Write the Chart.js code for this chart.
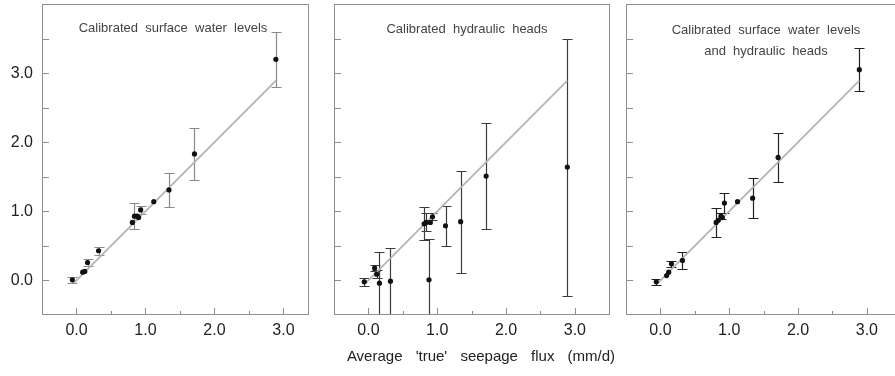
<!DOCTYPE html>
<html>
<head>
<meta charset="utf-8">
<script src="https://cdn.jsdelivr.net/npm/chart.js@4/dist/chart.umd.min.js"></script>
<style>
  html, body { margin: 0; padding: 0; background: #fff; width: 895px; height: 376px; overflow: hidden; position: relative; }
  canvas { position: absolute; top: 0; }
  #xTitle { position: absolute; left: 281px; top: 347px; width: 400px; text-align: center;
            font: 15px "Liberation Sans", Arial, sans-serif; word-spacing: 9px; color: #222; white-space: nowrap; }
</style>
</head>
<body>
<canvas id="c1" width="320" height="376" style="left:0"></canvas>
<canvas id="c2" width="300" height="376" style="left:320px"></canvas>
<canvas id="c3" width="290" height="376" style="left:620px"></canvas>
<div id="xTitle">Average 'true' seepage flux (mm/d)</div>
<script>
/* ---- data (mm/d) ---- */
// average "true" seepage flux, shared by the three panels
const TRUE_FLUX = [-0.06, 0.09, 0.12, 0.16, 0.32, 0.81, 0.84, 0.88, 0.90, 0.93, 1.12, 1.34, 1.71, 2.89];

// calibrated surface water levels
const SW_EST = [0.01, 0.12, 0.13, 0.26, 0.43, 0.84, 0.93, 0.93, 0.91, 1.02, 1.14, 1.31, 1.83, 3.20];
const SW_ERR = [0.04, 0, 0, 0.05, 0.055, 0, 0.19, 0, 0, 0.06, 0, 0.25, 0.375, 0.40];

// calibrated hydraulic heads
const HH_EST = [-0.02, 0.18, 0.09, -0.04, -0.01, 0.82, 0.84, 0.01, 0.84, 0.92, 0.79, 0.85, 1.51, 1.64];
const HH_ERR = [0.06, 0.05, 0.06, 0.45, 0.48, 0.24, 0.13, 0.59, 0, 0.05, 0.29, 0.74, 0.77, 1.86];

// calibrated surface water levels and hydraulic heads
const BOTH_EST = [-0.02, 0.07, 0.12, 0.24, 0.29, 0.84, 0.87, 0.93, 0.91, 1.12, 1.14, 1.19, 1.78, 3.05];
const BOTH_ERR = [0.045, 0, 0, 0.04, 0.12, 0.21, 0, 0.04, 0, 0.145, 0, 0.29, 0.355, 0.315];

// 1:1 reference line
const LINE_X = [-0.04, 2.89];
const LINE_Y = [-0.04, 2.89];

const Y_MIN = -0.5, Y_MAX = 4.0, X_MIN = -0.5;
const X_MAX = [3.37, 3.51, 3.51];

const FONT = "'Liberation Sans', Arial, sans-serif";

const label = (v) => (Math.abs(v - Math.round(v)) < 1e-6 && v >= 0 && v <= 3 ? v.toFixed(1) : "");

/* ---- frame, inward ticks, error bars, note ---- */
const panelPlugin = {
  id: "panelExtras",
  beforeDatasetsDraw(chart, args, opts) {
    const { ctx, chartArea: a, scales: { x, y } } = chart;
    const ds = chart.data.datasets[0];
    ctx.save();
    ctx.beginPath();
    ctx.rect(a.left, a.top, a.right - a.left, a.bottom - a.top);
    ctx.clip();
    ctx.strokeStyle = opts.barColor;
    ctx.lineWidth = 1.2;
    ds.data.forEach((p, i) => {
      const e = ds.err[i];
      if (!e) return;
      const px = Math.round(x.getPixelForValue(p.x)) + 0.5;
      const top = Math.round(y.getPixelForValue(p.y + e)) + 0.5;
      const bot = Math.round(y.getPixelForValue(p.y - e)) + 0.5;
      ctx.beginPath();
      ctx.moveTo(px, top); ctx.lineTo(px, bot);
      ctx.moveTo(px - 5, top); ctx.lineTo(px + 5, top);
      ctx.moveTo(px - 5, bot); ctx.lineTo(px + 5, bot);
      ctx.stroke();
    });
    ctx.restore();
  },
  afterDraw(chart, args, opts) {
    const { ctx, chartArea: a, scales: { x, y } } = chart;
    ctx.save();
    ctx.strokeStyle = "#8f8f8f";
    ctx.lineWidth = 1;
    ctx.strokeRect(Math.round(a.left) + 0.5, Math.round(a.top) + 0.5,
      Math.round(a.right - a.left) - 1, Math.round(a.bottom - a.top) - 1);

    const isHalf = (v) => Math.abs(v * 2 - Math.round(v * 2)) < 1e-6;
    const isInt = (v) => Math.abs(v - Math.round(v)) < 1e-6;
    ctx.beginPath();
    x.ticks.forEach((t) => {
      if (!isHalf(t.value) || t.value <= x.min + 1e-6 || t.value >= x.max - 1e-6) return;
      const px = Math.round(x.getPixelForValue(t.value)) + 0.5;
      const len = isInt(t.value) ? 7 : 4;
      ctx.moveTo(px, a.bottom); ctx.lineTo(px, a.bottom - len);
    });
    y.ticks.forEach((t) => {
      if (!isHalf(t.value) || t.value <= y.min + 1e-6 || t.value >= y.max - 1e-6) return;
      const py = Math.round(y.getPixelForValue(t.value)) + 0.5;
      ctx.moveTo(a.left, py); ctx.lineTo(a.left + 7, py);
    });
    ctx.stroke();

    ctx.fillStyle = "#444";
    ctx.font = "13px " + FONT;
    ctx.textAlign = "center";
    ctx.textBaseline = "alphabetic";
    opts.note.forEach((line, i) => ctx.fillText(line, opts.noteX, opts.noteY + i * 21));
    ctx.restore();
  }
};

function makePanel(id, est, err, barColor, xMax, showY, pad, note, noteX, noteY) {
  return new Chart(document.getElementById(id), {
    type: "scatter",
    data: {
      datasets: [
        {
          data: TRUE_FLUX.map((v, i) => ({ x: v, y: est[i] })),
          err: err,
          pointRadius: 2.6,
          pointBackgroundColor: "#111",
          pointBorderWidth: 0
        },
        {
          data: LINE_X.map((v, i) => ({ x: v, y: LINE_Y[i] })),
          showLine: true,
          borderColor: "#b4b4b4",
          borderWidth: 1.8,
          pointRadius: 0
        }
      ]
    },
    options: {
      responsive: false,
      animation: false,
      devicePixelRatio: 1,
      layout: { padding: pad },
      plugins: {
        legend: { display: false },
        tooltip: { enabled: false },
        panelExtras: { barColor, note, noteX, noteY }
      },
      scales: {
        x: {
          type: "linear",
          min: X_MIN,
          max: xMax,
          grid: { display: false, drawTicks: false },
          border: { display: false },
          ticks: {
            stepSize: 0.5,
            includeBounds: false,
            autoSkip: false,
            maxRotation: 0,
            padding: 6,
            color: "#222",
            font: { family: FONT, size: 16 },
            callback: label
          },
          afterFit: (s) => { s.height = 61; s.paddingLeft = 0; s.paddingRight = 0; }
        },
        y: {
          type: "linear",
          min: Y_MIN,
          max: Y_MAX,
          grid: { display: false, drawTicks: false },
          border: { display: false },
          ticks: {
            display: showY,
            stepSize: 0.5,
            includeBounds: false,
            autoSkip: false,
            padding: 9,
            color: "#222",
            font: { family: FONT, size: 16 },
            callback: label
          },
          afterFit: (s) => { s.width = showY ? 42 : 0; s.paddingTop = 0; s.paddingBottom = 0; }
        }
      }
    },
    plugins: [panelPlugin]
  });
}

makePanel("c1", SW_EST, SW_ERR, "#8a8a8a", X_MAX[0], true,
  { top: 3, right: 11, left: 0, bottom: 0 },
  ["Calibrated  surface  water  levels"], 173, 32);
makePanel("c2", HH_EST, HH_ERR, "#3c3c3c", X_MAX[1], false,
  { top: 3, right: 10, left: 14, bottom: 0 },
  ["Calibrated  hydraulic  heads"], 147, 33);
makePanel("c3", BOTH_EST, BOTH_ERR, "#222", X_MAX[2], false,
  { top: 3, right: 8, left: 6, bottom: 0 },
  ["Calibrated  surface  water  levels", "and  hydraulic  heads"], 146, 34);
</script>
</body>
</html>
